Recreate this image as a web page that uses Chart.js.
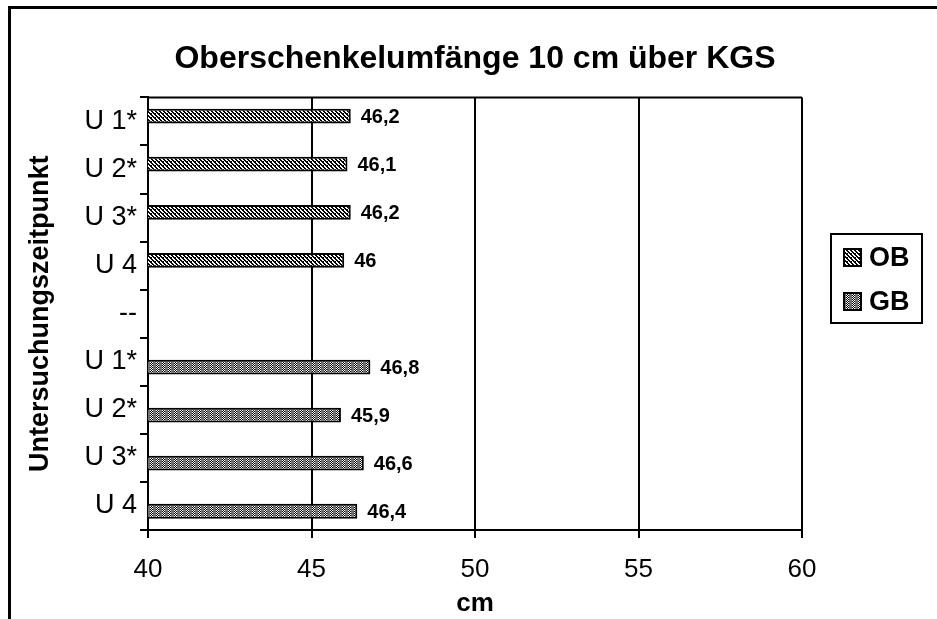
<!DOCTYPE html>
<html>
<head>
<meta charset="utf-8">
<title>Oberschenkelumfänge 10 cm über KGS</title>
<script src="https://cdn.jsdelivr.net/npm/chart.js@4"></script>
<style>
    body { margin: 0; background: #fff; }
    #wrap { position: relative; width: 937px; height: 619px; }
    #frame {
        position: absolute; left: 8px; top: 6px; right: 0; bottom: 0;
        border-left: 3px solid #000; border-top: 3px solid #000;
        pointer-events: none;
    }
</style>
</head>
<body>
<div id="wrap">
    <canvas id="chart" width="937" height="619"></canvas>
    <div id="frame"></div>
</div>
<script>
const categories = ['U 1*', 'U 2*', 'U 3*', 'U 4', '--', 'U 1*', 'U 2*', 'U 3*', 'U 4'];
const obValues = [46.2, 46.1, 46.2, 46, null, null, null, null, null];
const gbValues = [null, null, null, null, null, 46.8, 45.9, 46.6, 46.4];
const xTicks = [40, 45, 50, 55, 60];
const seriesNames = ['OB', 'GB'];

const FONT = "'Liberation Sans', Arial, sans-serif";
Chart.defaults.font.family = FONT;
Chart.defaults.color = '#000';

const canvas = document.getElementById('chart');
const ctx = canvas.getContext('2d');

// small repeating fills that imitate the old Excel hatch patterns
function makePattern(w, h, draw) {
    const c = document.createElement('canvas');
    c.width = w; c.height = h;
    draw(c.getContext('2d'));
    return ctx.createPattern(c, 'repeat');
}

const obPattern = makePattern(4, 4, g => {
    g.fillStyle = '#fff';
    g.fillRect(0, 0, 4, 4);
    g.fillStyle = '#000';
    for (let y = 0; y < 4; y++) {
        for (let x = 0; x < 4; x++) {
            if ((x - y + 8) % 4 < 2) g.fillRect(x, y, 1, 1);
        }
    }
    g.fillRect(3, 1, 1, 1);
});

const gbPattern = makePattern(6, 2, g => {
    g.fillStyle = '#707070';
    g.fillRect(0, 0, 6, 2);
    g.fillStyle = '#fff';
    g.fillRect(0, 0, 1, 1); g.fillRect(1, 1, 1, 1); g.fillRect(2, 0, 1, 1);
    g.fillStyle = '#000';
    g.fillRect(0, 1, 1, 1); g.fillRect(1, 0, 1, 1); g.fillRect(2, 1, 1, 1);
});

const fmt = v => String(v).replace('.', ',');

// value labels right of each bar
const valueLabels = {
    id: 'valueLabels',
    afterDatasetsDraw(chart) {
        const c = chart.ctx;
        c.save();
        c.font = 'bold 20px ' + FONT;
        c.fillStyle = '#000';
        c.textAlign = 'left';
        c.textBaseline = 'middle';
        chart.data.datasets.forEach((ds, i) => {
            chart.getDatasetMeta(i).data.forEach((bar, j) => {
                const v = ds.data[j];
                if (v === null || v === undefined) return;
                c.fillText(fmt(v), bar.x + 10, bar.y + 1);
            });
        });
        c.restore();
    }
};

// top border of the plot area
const plotFrame = {
    id: 'plotFrame',
    afterDraw(chart) {
        const a = chart.chartArea;
        const c = chart.ctx;
        c.save();
        c.strokeStyle = '#000';
        c.lineWidth = 2;
        c.beginPath();
        c.moveTo(a.left, a.top);
        c.lineTo(a.right, a.top);
        c.stroke();
        c.restore();
    }
};

// boxed legend on the right
const boxLegend = {
    id: 'boxLegend',
    afterDraw(chart) {
        const a = chart.chartArea;
        const c = chart.ctx;
        const left = a.right + 29, top = 234, w = 91, h = 89;
        c.save();
        c.strokeStyle = '#000';
        c.lineWidth = 2;
        c.strokeRect(left, top, w, h);
        c.font = 'bold 27px ' + FONT;
        c.textBaseline = 'middle';
        chart.data.datasets.forEach((ds, i) => {
            const cy = top + 23 + i * 44;
            c.fillStyle = ds.backgroundColor;
            c.fillRect(left + 13, cy - 8, 17, 17);
            c.strokeRect(left + 13, cy - 8, 17, 17);
            c.fillStyle = '#000';
            c.fillText(ds.label, left + 38, cy + 2);
        });
        c.restore();
    }
};

// Excel-style overlapping pair: narrow slots, bars wider than their slot
const barStyle = {
    borderColor: '#000',
    borderWidth: 2,
    borderSkipped: false,
    categoryPercentage: 0.44,
    barPercentage: 1.4
};

new Chart(ctx, {
    type: 'bar',
    data: {
        labels: categories,
        datasets: [
            Object.assign({ label: seriesNames[0], data: obValues, backgroundColor: obPattern }, barStyle),
            Object.assign({ label: seriesNames[1], data: gbValues, backgroundColor: gbPattern }, barStyle)
        ]
    },
    options: {
        indexAxis: 'y',
        responsive: false,
        animation: false,
        layout: { padding: { left: 0, right: 135, top: 0, bottom: 0 } },
        plugins: {
            legend: { display: false },
            tooltip: { enabled: false },
            title: {
                display: true,
                text: 'Oberschenkelumfänge 10 cm über KGS',
                color: '#000',
                fullSize: false,
                font: { size: 32, weight: 'bold' },
                padding: { top: 40, bottom: 19 }
            }
        },
        scales: {
            x: {
                min: xTicks[0],
                max: xTicks[xTicks.length - 1],
                afterBuildTicks: s => { s.ticks = xTicks.map(v => ({ value: v })); },
                afterFit: s => { s.height = 89; },
                ticks: { color: '#000', font: { size: 26 }, padding: 16 },
                grid: { color: '#000', lineWidth: 2, tickLength: 8 },
                border: { color: '#000', width: 2 },
                title: {
                    display: true, text: 'cm', color: '#000',
                    font: { size: 26, weight: 'bold' },
                    padding: { top: 10, bottom: 0 }
                }
            },
            y: {
                afterFit: s => { s.width = 148; },
                ticks: { color: '#000', font: { size: 27 }, padding: 3 },
                grid: { drawOnChartArea: false, color: '#000', lineWidth: 2, tickLength: 8 },
                border: { color: '#000', width: 2 },
                title: {
                    display: true, text: 'Untersuchungszeitpunkt', color: '#000',
                    font: { size: 27, weight: 'bold' },
                    padding: { top: 24, bottom: 0 }
                }
            }
        }
    },
    plugins: [valueLabels, plotFrame, boxLegend]
});
</script>
</body>
</html>
